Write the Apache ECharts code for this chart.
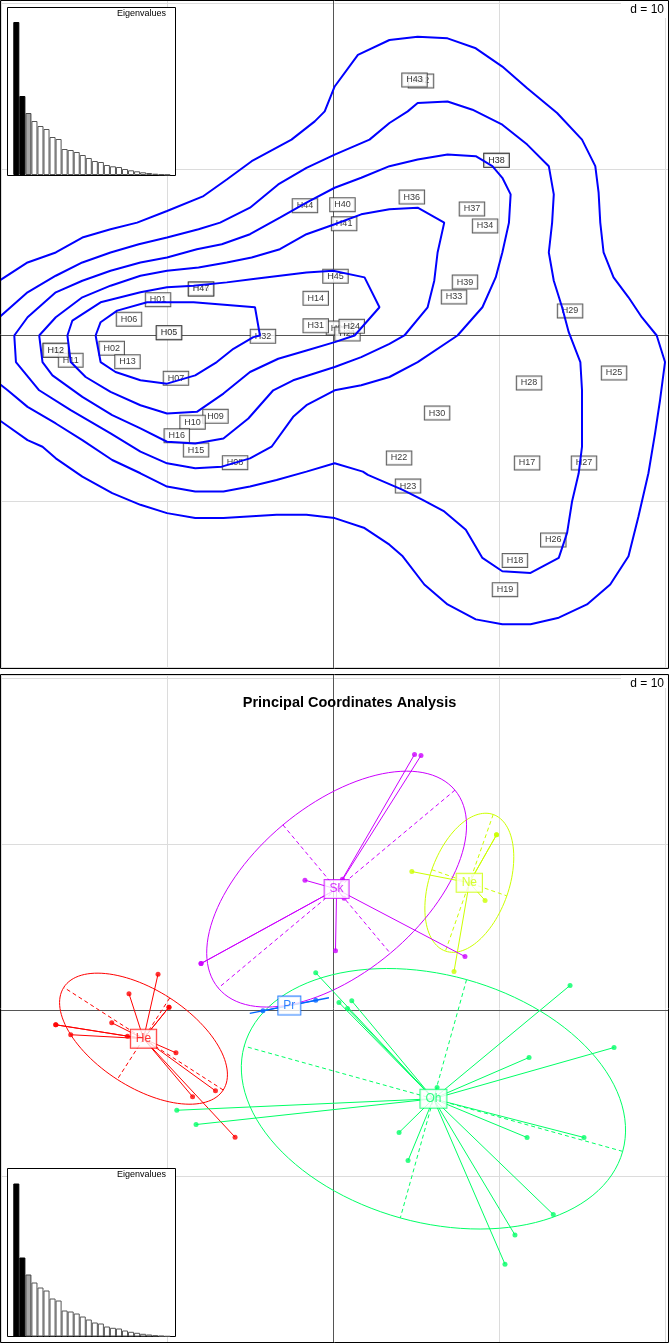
<!DOCTYPE html>
<html><head><meta charset="utf-8">
<script src="https://cdn.jsdelivr.net/npm/echarts@6/dist/echarts.min.js"></script>
<style>html,body{margin:0;padding:0;background:#fff}#c{width:670px;height:1344px}</style>
</head><body><div id="c"></div>
<script>
// ---------- DATA ----------
const sampleNames = ['H01','H02','H03','H04','H05','H06','H07','H08','H09','H10','H11','H12','H13','H14','H15','H16','H17','H18','H19','H20','H21','H22','H23','H24','H25','H26','H27','H28','H29','H30','H31','H32','H33','H34','H35','H36','H37','H38','H39','H40','H41','H42','H43','H44','H45','H46','H47'];
const sampleX = [-10.54,-13.33,-16.70,-9.88,-9.88,-12.29,-9.46,-5.90,-7.08,-8.46,-15.80,-16.70,-12.38,-1.04,-8.25,-9.41,11.69,10.96,10.36,0.36,0.87,3.98,4.52,1.13,16.93,13.27,15.12,11.81,14.28,6.27,-1.04,-4.22,7.29,9.16,9.85,4.75,8.37,9.85,7.95,0.57,0.67,5.30,4.91,-1.69,0.15,-7.95,-7.95];
const sampleY = [2.16,-0.77,-0.89,0.17,0.17,0.98,-2.58,-7.66,-4.87,-5.22,-1.49,-0.89,-1.58,2.24,-6.90,-6.04,-7.68,-13.55,-15.31,0.45,0.09,-7.38,-9.07,0.55,-2.26,-12.32,-7.68,-2.86,1.48,-4.67,0.58,-0.05,2.32,6.60,10.55,8.34,7.62,10.55,3.22,7.88,6.73,15.33,15.39,7.82,3.57,2.80,2.80];
const sampleGroup = ['He','He','He','He','He','He','He','He','He','He','He','He','He',
  'Oh','Oh','Oh','Oh','Oh','Oh','Oh','Oh','Oh','Oh','Oh','Oh','Oh','Oh','Oh','Oh','Oh',
  'Pr','Pr','Ne','Ne','Ne','Ne','Ne','Ne','Sk','Sk','Sk','Sk','Sk','Sk','Sk','Sk','Sk'];
const groupNames = ['He','Ne','Oh','Pr','Sk'];
const groupColors = ['#FF0000','#CCFF00','#00FF66','#0066FF','#CC00FF'];
const eigenvalues = [15.3,7.9,6.2,5.4,4.9,4.6,3.8,3.6,2.6,2.5,2.3,2.0,1.7,1.4,1.3,1.0,0.87,0.8,0.6,0.47,0.37,0.27,0.2,0.13,0.07,0.03];

const contour1 = [[-20.1,3.3],[-18.4,4.4],[-16.7,5.0],[-15.1,5.9],[-13.4,6.4],[-11.8,6.8],[-10.0,7.5],[-7.8,8.4],[-6.4,9.4],[-4.9,10.5],[-2.5,11.8],[-1.1,12.9],[-0.5,13.5],[0.1,15.0],[1.5,16.9],[3.4,17.8],[5.1,18.0],[6.9,17.9],[8.6,17.3],[10.2,16.2],[11.7,14.9],[13.5,13.4],[15.0,11.8],[15.8,10.2],[16.0,8.6],[16.1,6.8],[16.3,5.0],[16.9,3.5],[17.8,2.3],[18.6,1.1],[19.5,0.0],[20.0,-1.6],[19.7,-3.9],[19.4,-5.9],[19.0,-8.3],[18.4,-10.9],[17.8,-13.3],[16.7,-15.0],[15.3,-16.2],[13.6,-17.0],[11.9,-17.4],[10.2,-17.4],[8.6,-17.1],[6.9,-16.2],[5.5,-15.0],[4.2,-13.3],[3.4,-12.6],[1.9,-11.6],[0.1,-11.0],[-1.6,-10.8],[-3.4,-10.8],[-6.6,-11.0],[-8.3,-11.0],[-10.0,-10.7],[-11.6,-10.2],[-13.3,-9.5],[-15.1,-8.5],[-16.7,-7.4],[-17.5,-6.7],[-18.4,-6.3],[-20.1,-5.1]];
const contour2 = [[-20.1,1.1],[-18.4,2.6],[-16.7,3.6],[-15.1,4.4],[-13.4,5.0],[-11.7,5.5],[-10.0,5.9],[-8.1,6.4],[-6.8,6.8],[-5.0,7.7],[-3.3,9.1],[-1.6,10.1],[0.1,10.9],[2.2,11.8],[3.4,12.8],[4.5,13.5],[5.1,14.0],[6.9,14.1],[8.4,13.6],[10.2,12.7],[11.7,11.5],[13.0,10.2],[13.3,8.5],[13.2,6.8],[13.0,5.0],[13.3,3.3],[13.8,1.7],[14.2,0.2],[14.9,-1.6],[15.0,-3.3],[15.0,-6.7],[14.8,-8.3],[14.4,-10.0],[14.1,-11.9],[13.6,-13.4],[11.9,-14.3],[10.2,-14.2],[9.0,-13.4],[8.0,-11.7],[6.7,-10.6],[5.4,-9.9],[4.2,-9.3],[2.1,-8.4],[1.8,-8.2],[0.1,-7.7],[-1.6,-8.2],[-3.4,-8.7],[-5.0,-9.1],[-6.6,-9.4],[-8.3,-9.4],[-10.0,-9.1],[-11.6,-8.3],[-13.3,-7.5],[-15.1,-6.3],[-16.7,-5.3],[-18.4,-4.3],[-19.6,-3.3],[-20.1,-2.9]];
const contour3 = [[-19.2,0.0],[-18.4,1.1],[-16.7,2.6],[-15.1,3.3],[-13.4,3.9],[-11.6,4.4],[-10.0,4.7],[-8.2,5.2],[-6.7,5.5],[-5.0,6.1],[-3.2,7.1],[-1.6,8.0],[0.1,8.9],[1.7,9.5],[3.4,10.2],[5.1,10.6],[6.9,10.9],[8.6,10.8],[9.6,10.2],[10.2,9.5],[10.7,8.5],[10.6,6.8],[10.2,5.0],[9.8,3.5],[9.0,1.7],[7.5,0.0],[5.1,-1.6],[3.4,-2.5],[1.7,-3.0],[0.1,-3.3],[-1.6,-4.2],[-2.4,-4.9],[-3.7,-6.7],[-5.0,-7.4],[-6.7,-7.9],[-8.3,-8.0],[-10.0,-7.7],[-11.6,-7.0],[-13.4,-5.9],[-15.8,-4.5],[-17.7,-3.3],[-19.1,-1.6],[-19.2,0.0]];
const contour4 = [[-17.7,0.0],[-16.7,1.1],[-15.1,2.3],[-13.4,3.0],[-11.6,3.6],[-10.0,3.9],[-8.1,4.1],[-6.4,4.4],[-4.9,4.7],[-3.2,5.2],[-1.6,6.1],[0.1,6.7],[1.7,7.3],[3.4,7.6],[5.1,7.7],[6.7,6.8],[6.3,5.0],[6.1,3.3],[5.7,1.7],[4.3,0.0],[3.4,-0.5],[1.7,-1.3],[0.1,-1.9],[-2.4,-2.7],[-3.6,-3.3],[-5.1,-5.0],[-6.6,-6.2],[-8.3,-6.5],[-10.0,-6.4],[-11.6,-5.6],[-13.3,-4.8],[-15.1,-3.7],[-16.9,-2.4],[-17.5,-1.6],[-17.7,0.0]];
const contour5 = [[-16.0,0.0],[-15.7,0.9],[-14.0,2.0],[-11.6,2.6],[-10.0,2.9],[-8.4,3.0],[-6.4,3.2],[-4.8,3.4],[-1.6,3.8],[0.0,3.9],[1.9,3.5],[2.8,1.7],[1.3,0.0],[0.1,-0.4],[-1.6,-0.9],[-3.3,-1.4],[-5.0,-2.2],[-6.6,-3.5],[-8.2,-4.6],[-10.0,-4.7],[-11.6,-4.2],[-13.4,-3.4],[-14.9,-2.5],[-15.8,-1.6],[-16.0,0.0]];
const contour6 = [[-14.3,0.0],[-14.0,0.8],[-13.0,1.5],[-11.2,2.0],[-9.8,2.0],[-8.4,2.0],[-4.7,1.7],[-4.4,0.0],[-4.8,-0.1],[-6.0,-0.8],[-7.0,-1.6],[-8.3,-2.4],[-10.0,-2.9],[-11.6,-2.7],[-13.1,-2.2],[-14.0,-1.6],[-14.3,0.0]];
const contours = [contour1, contour2, contour3, contour4, contour5, contour6];

// ---------- derived: class centroids and 1.5-sd ellipses ----------
const FONT = '"Liberation Sans", Arial, Helvetica, sans-serif';
const ellipses = groupNames.map((g, gi) => {
  const idx = sampleGroup.map((s, i) => s === g ? i : -1).filter(i => i >= 0);
  const n = idx.length;
  let mx = 0, my = 0;
  idx.forEach(i => { mx += sampleX[i]; my += sampleY[i]; });
  mx /= n; my /= n;
  let vxx = 0, vyy = 0, vxy = 0;
  idx.forEach(i => { const dx = sampleX[i]-mx, dy = sampleY[i]-my; vxx += dx*dx; vyy += dy*dy; vxy += dx*dy; });
  vxx /= n; vyy /= n; vxy /= n;
  const t = (vxx+vyy)/2, d = Math.sqrt(((vxx-vyy)/2)**2 + vxy*vxy);
  const l1 = t + d, l2 = Math.max(t - d, 0);
  const phi = 0.5*Math.atan2(2*vxy, vxx - vyy);
  return {g: gi, mx, my, a: 1.5*Math.sqrt(l1), b: 1.5*Math.sqrt(l2),
          ux: Math.cos(phi), uy: Math.sin(phi), vx: -Math.sin(phi), vy: Math.cos(phi)};
});

// ---------- option ----------
const mainGrid = (top) => ({left: 1, top: top, width: 667, height: 667, show: false});
const valAxis = (gi, min, max) => ({
  type: 'value', gridIndex: gi, min: min, max: max, interval: 10,
  axisLabel: {show: false}, axisTick: {show: false},
  axisLine: {show: true, onZero: true, lineStyle: {color: '#555', width: 1}},
  splitLine: {show: true, lineStyle: {color: '#dcdcdc', width: 1}}
});
const insetX = (gi) => ({type: 'category', gridIndex: gi, data: eigenvalues.map((v, i) => String(i+1)), show: false});
const insetY = (gi) => ({type: 'value', gridIndex: gi, min: 0, max: 16.75, show: false});
const eigenData = eigenvalues.map((v, i) => ({
  value: v,
  itemStyle: i < 2 ? {color: '#000', borderColor: '#000', borderWidth: 1}
       : i === 2 ? {color: '#a6a6a6', borderColor: '#444', borderWidth: 1}
       : {color: '#fff', borderColor: '#555', borderWidth: 1}
}));

const series = [];
// top panel: sample labels
series.push({
  type: 'scatter', xAxisIndex: 0, yAxisIndex: 0, z: 2,
  symbolSize: 0.001, itemStyle: {color: 'rgba(0,0,0,0)'},
  data: sampleNames.map((nm, i) => ({name: nm, value: [sampleX[i], sampleY[i]]})),
  label: {show: true, position: 'inside', formatter: p => p.name, color: '#000',
    fontFamily: FONT, fontSize: 9, lineHeight: 10, backgroundColor: '#fff',
    borderColor: '#333', borderWidth: 1, padding: [2, 4, 1, 4]},
  emphasis: {disabled: true}, silent: true
});
// top panel: contour lines
contours.forEach(c => series.push({
  type: 'line', xAxisIndex: 0, yAxisIndex: 0, z: 4, data: c, symbol: 'none', smooth: false,
  lineStyle: {color: '#0000FF', width: 2}, silent: true
}));
// bottom panel: ellipses with axes
series.push({
  type: 'custom', xAxisIndex: 1, yAxisIndex: 1, z: 2, silent: true,
  data: ellipses.map(e => [e.mx, e.my, e.g]),
  renderItem: (params, api) => {
    const e = ellipses[api.value(2)];
    const col = groupColors[e.g];
    const children = [];
    if (e.b > 1e-6) {
      const pts = [];
      for (let k = 0; k <= 120; k++) {
        const th = 2*Math.PI*k/120;
        const ca = e.a*Math.cos(th), sb = e.b*Math.sin(th);
        pts.push(api.coord([e.mx + ca*e.ux + sb*e.vx, e.my + ca*e.uy + sb*e.vy]));
      }
      children.push({type: 'polyline', shape: {points: pts}, style: {stroke: col, fill: null, lineWidth: 1}});
      const m1 = api.coord([e.mx + e.b*e.vx, e.my + e.b*e.vy]);
      const m2 = api.coord([e.mx - e.b*e.vx, e.my - e.b*e.vy]);
      children.push({type: 'line', shape: {x1: m1[0], y1: m1[1], x2: m2[0], y2: m2[1]}, style: {stroke: col, lineWidth: 1, lineDash: [4, 3]}});
      const a1 = api.coord([e.mx + e.a*e.ux, e.my + e.a*e.uy]);
      const a2 = api.coord([e.mx - e.a*e.ux, e.my - e.a*e.uy]);
      children.push({type: 'line', shape: {x1: a1[0], y1: a1[1], x2: a2[0], y2: a2[1]}, style: {stroke: col, lineWidth: 1, lineDash: [4, 3]}});
    } else {
      const a1 = api.coord([e.mx + e.a*e.ux, e.my + e.a*e.uy]);
      const a2 = api.coord([e.mx - e.a*e.ux, e.my - e.a*e.uy]);
      children.push({type: 'line', shape: {x1: a1[0], y1: a1[1], x2: a2[0], y2: a2[1]}, style: {stroke: col, lineWidth: 1.3}});
    }
    return {type: 'group', children};
  }
});
// bottom panel: stars
series.push({
  type: 'custom', xAxisIndex: 1, yAxisIndex: 1, z: 3, silent: true,
  data: sampleNames.map((nm, i) => {
    const gi = groupNames.indexOf(sampleGroup[i]);
    return [sampleX[i], sampleY[i], ellipses[gi].mx, ellipses[gi].my, gi];
  }),
  renderItem: (params, api) => {
    const p = api.coord([api.value(0), api.value(1)]);
    const c = api.coord([api.value(2), api.value(3)]);
    return {type: 'line', shape: {x1: c[0], y1: c[1], x2: p[0], y2: p[1]}, style: {stroke: groupColors[api.value(4)], lineWidth: 1}};
  }
});
// bottom panel: points
series.push({
  type: 'scatter', xAxisIndex: 1, yAxisIndex: 1, z: 4, symbolSize: 5, silent: true,
  data: sampleNames.map((nm, i) => ({value: [sampleX[i], sampleY[i]], itemStyle: {color: groupColors[groupNames.indexOf(sampleGroup[i])]}}))
});
// bottom panel: class labels
series.push({
  type: 'scatter', xAxisIndex: 1, yAxisIndex: 1, z: 5, symbolSize: 0.001, silent: true,
  itemStyle: {color: 'rgba(0,0,0,0)'},
  data: ellipses.map(e => ({name: groupNames[e.g], value: [e.mx, e.my],
    label: {color: groupColors[e.g], borderColor: groupColors[e.g]}})),
  label: {show: true, position: 'inside', formatter: p => p.name, fontFamily: FONT, fontSize: 12, lineHeight: 13,
    backgroundColor: '#fff', borderWidth: 1, padding: [3, 5, 2, 5]}
});
// eigenvalue insets
series.push({type: 'bar', xAxisIndex: 2, yAxisIndex: 2, z: 3, barCategoryGap: '0%', data: eigenData, silent: true});
series.push({type: 'bar', xAxisIndex: 3, yAxisIndex: 3, z: 3, barCategoryGap: '0%', data: eigenData, silent: true});

const txt = (x, y, s, font, align) => ({type: 'text', x: x, y: y, z: 6,
  style: {text: s, font: font, fill: '#000', textAlign: align, textVerticalAlign: 'middle', align: align, verticalAlign: 'middle'}});
const rect = (x, y, w, h, stroke) => ({type: 'rect', z: 1, shape: {x, y, width: w, height: h},
  style: stroke ? {fill: '#fff', stroke: '#000', lineWidth: 1} : {fill: '#fff'}});
const frame = (x, y, w, h) => ({type: 'rect', z: 20, silent: true, shape: {x, y, width: w, height: h},
  style: {fill: null, stroke: '#000', lineWidth: 1}});

const option = {
  animation: false,
  backgroundColor: '#fff',
  grid: [mainGrid(0.5), mainGrid(675),
         {left: 13.3, top: 7.5, width: 157, height: 167.5, show: false},
         {left: 13.3, top: 1169, width: 157, height: 167.5, show: false}],
  xAxis: [valAxis(0, -20, 20.18), valAxis(1, -20, 20.18), insetX(2), insetX(3)],
  yAxis: [valAxis(0, -20, 20.18), valAxis(1, -20, 20.18), insetY(2), insetY(3)],
  series: series,
  graphic: {elements: [
    rect(7.5, 7.5, 168, 168, true),
    rect(7.5, 1168.5, 168, 168, true),
    rect(621, 1, 46.5, 17, false),
    rect(621, 675.5, 46.5, 12.5, false),
    txt(166, 14, 'Eigenvalues', '9px ' + FONT, 'right'),
    txt(166, 1175, 'Eigenvalues', '9px ' + FONT, 'right'),
    txt(664, 9.5, 'd = 10', '12px ' + FONT, 'right'),
    txt(664, 683.5, 'd = 10', '12px ' + FONT, 'right'),
    txt(349.5, 703, 'Principal Coordinates Analysis', 'bold 14.5px ' + FONT, 'center'),
    frame(0.5, 0.5, 668, 668),
    frame(0.5, 674.5, 668, 668)
  ]}
};
const chart = echarts.init(document.getElementById('c'), null, {renderer: 'canvas'});
chart.setOption(option);
</script></body></html>
